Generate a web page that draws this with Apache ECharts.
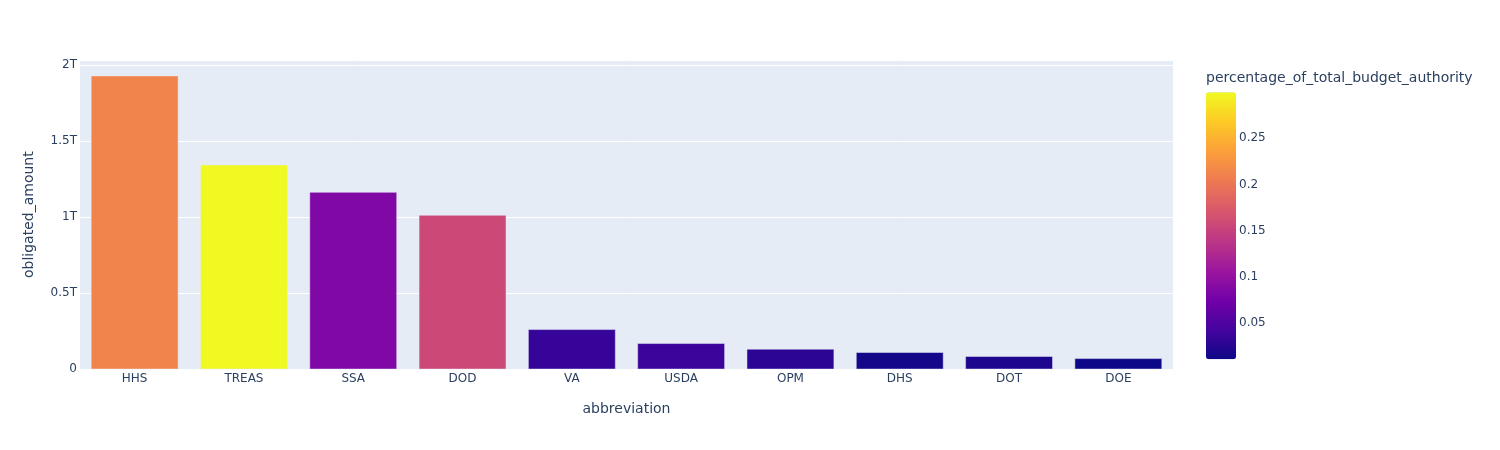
<!DOCTYPE html>
<html>
<head>
<meta charset="utf-8">
<script src="https://cdn.jsdelivr.net/npm/echarts@6/dist/echarts.min.js"></script>
<style>html,body{margin:0;padding:0;background:#fff}#c{width:1500px;height:450px}</style>
</head>
<body>
<div id="c"></div>
<script>
const categories = ['HHS','TREAS','SSA','DOD','VA','USDA','OPM','DHS','DOT','DOE'];
const obligatedAmount = [1.932e12, 1.346e12, 1.166e12, 1.015e12, 0.263e12, 0.171e12, 0.134e12, 0.112e12, 0.086e12, 0.072e12];
const pctBudget = [0.213, 0.2997, 0.086, 0.157, 0.034, 0.038, 0.029, 0.015, 0.021, 0.0111];
const yTicks = [0, 0.5e12, 1e12, 1.5e12, 2e12];
const colorbarTicks = [0.05, 0.1, 0.15, 0.2, 0.25];
const plasma = ['#0d0887','#46039f','#7201a8','#9c179e','#bd3786','#d8576b','#ed7953','#fb9f3a','#fdca26','#f0f921'];

const FONT = 'Verdana, "DejaVu Sans", sans-serif';
const TXT = '#2a3f5f';
const cmin = Math.min(...pctBudget), cmax = Math.max(...pctBudget);
const data = categories.map((c, i) => [c, obligatedAmount[i], pctBudget[i]]);

const chart = echarts.init(document.getElementById('c'), null, {renderer: 'canvas'});
chart.setOption({
  backgroundColor: '#fff',
  textStyle: {fontFamily: FONT, color: TXT},
  title: {
    text: 'percentage_of_total_budget_authority',
    left: 1206, top: 71, padding: 0,
    textStyle: {fontFamily: FONT, fontSize: 14, fontWeight: 'normal', color: TXT}
  },
  grid: [
    {left: 80, right: 327, top: 60, bottom: 80.7, backgroundColor: '#E5ECF6', show: true, borderWidth: 0},
    {left: 1206, width: 30, top: 92.3, height: 277.3, show: false}
  ],
  xAxis: [
    {type: 'category', gridIndex: 0, data: categories,
     name: 'abbreviation', nameLocation: 'middle', nameGap: 33,
     nameTextStyle: {fontFamily: FONT, fontSize: 14, color: TXT},
     axisLine: {show: false}, axisTick: {show: false},
     axisLabel: {fontFamily: FONT, fontSize: 12, color: TXT, margin: 4},
     splitLine: {show: false}},
    {type: 'value', gridIndex: 1, show: false}
  ],
  yAxis: [
    {type: 'value', gridIndex: 0, min: 0, max: 2.035e12, interval: 0.5e12,
     name: 'obligated_amount', nameLocation: 'middle', nameGap: 44, nameRotate: 90,
     nameTextStyle: {fontFamily: FONT, fontSize: 14, color: TXT},
     axisLine: {show: false}, axisTick: {show: false},
     axisLabel: {fontFamily: FONT, fontSize: 12, color: TXT, margin: 3,
       formatter: v => yTicks.includes(v) ? (v === 0 ? '0' : (v / 1e12) + 'T') : ''},
     splitLine: {lineStyle: {color: '#ffffff', width: 1}}},
    {type: 'value', gridIndex: 1, min: 0, max: cmax, interval: 0.05, position: 'right',
     axisLine: {show: false}, axisTick: {show: false}, splitLine: {show: false},
     axisLabel: {fontFamily: FONT, fontSize: 12, color: TXT, margin: 3,
       formatter: v => colorbarTicks.some(t => Math.abs(t - v) < 1e-9) ? String(+v.toFixed(2)) : ''}}
  ],
  visualMap: {
    type: 'continuous', dimension: 2, seriesIndex: 0,
    min: cmin, max: cmax, calculable: false,
    left: 1206, top: 92.3, itemWidth: 30, itemHeight: 267, padding: 0,
    text: ['', ''], showLabel: false,
    inRange: {color: plasma}
  },
  series: [
    {type: 'bar', xAxisIndex: 0, yAxisIndex: 0, data: data,
     encode: {x: 0, y: 1},
     barCategoryGap: '20%',
     itemStyle: {borderColor: '#E5ECF6', borderWidth: 0.5},
     animation: false},
    {type: 'scatter', xAxisIndex: 1, yAxisIndex: 1, data: [], silent: true}
  ]
});
</script>
</body>
</html>
